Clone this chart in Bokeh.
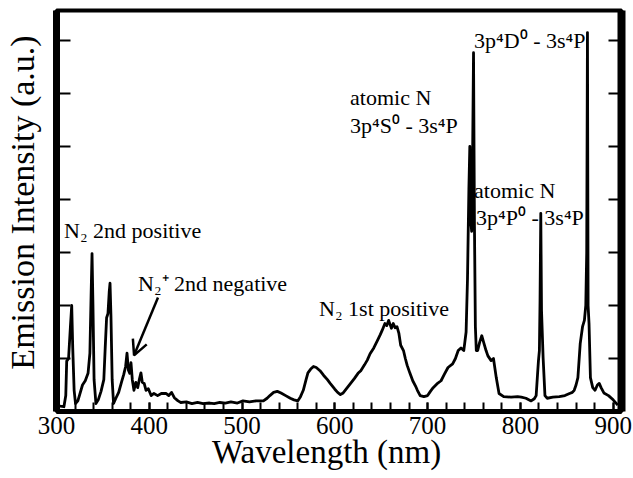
import math
from bokeh.plotting import figure
from bokeh.models import Range1d, FixedTicker, LinearAxis, Label, Arrow, OpenHead
from bokeh.embed import file_html
from bokeh.resources import INLINE

# Emission spectrum (wavelength in nm, intensity in a.u.)
wavelength = [300, 304, 308, 310, 311, 313, 315, 316.4, 317.5, 319, 320.5, 323, 325, 328, 331, 334,
              336, 337.3, 338.3, 339.3, 340.5, 342.5, 345, 348, 351, 352.5, 354, 355.5, 356.8, 357.7,
              358.7, 360, 361.5, 364, 367, 370, 372.5, 374.5, 376, 377.5, 379, 380.3, 381.7, 383.5,
              385.5, 387.5, 389.5, 391, 392.5, 394.5, 396.5, 399, 402, 405, 409, 413, 418, 421, 424,
              427, 431, 434, 440, 446, 452, 458, 465, 470, 476, 482, 488, 495, 501, 508, 515, 523,
              527, 530, 534, 538, 542, 547, 552, 556, 560, 563, 566, 569, 571, 574, 577, 580, 584,
              588, 592, 595, 600, 603, 606, 609, 613, 617, 621, 625, 628, 632, 635, 638, 642, 646,
              649, 651, 654, 656, 658, 660, 661, 663, 665, 667, 669, 671, 674, 676, 678, 681, 684,
              687, 689, 692, 696, 700, 703, 706, 710, 714.5, 718, 722, 727, 730, 733, 736, 739,
              741.5, 743, 744.5, 745.5, 746.5, 747.5, 748.5, 749.5, 750.5, 751.5, 752.5, 754, 756,
              758.4, 760.5, 763, 765, 768.5, 771, 774, 777, 782, 790, 797, 801, 806, 811.6, 815,
              817, 818.5, 819.5, 820.5, 821.2, 822, 822.8, 824.5, 826.5, 829, 835, 842, 848, 853,
              856, 858, 860, 862, 864.5, 867, 869, 870.5, 871.5, 872.3, 873, 874, 875.5, 878, 880.5,
              883, 885, 887, 890, 895, 900, 905]
intensity = [0.12, 0.10, 0.09, 0.30, 0.95, 1.00, 1.60, 2.00, 1.20, 0.40, 0.15, 0.20, 0.32, 0.50, 0.58, 0.72,
             1.10, 2.20, 2.98, 2.00, 0.60, 0.15, 0.22, 0.38, 0.60, 1.20, 1.77, 1.85, 2.25, 2.42,
             1.80, 0.60, 0.15, 0.25, 0.36, 0.55, 0.70, 0.85, 1.10, 0.78, 0.72, 0.92, 0.60, 0.40,
             0.55, 0.45, 0.62, 0.73, 0.55, 0.53, 0.40, 0.43, 0.30, 0.34, 0.30, 0.34, 0.34, 0.30, 0.36,
             0.26, 0.20, 0.17, 0.18, 0.15, 0.17, 0.15, 0.16, 0.15, 0.17, 0.16, 0.18, 0.16, 0.20, 0.18, 0.20, 0.20,
             0.25, 0.30, 0.36, 0.38, 0.35, 0.30, 0.25, 0.22, 0.20, 0.28, 0.40, 0.60, 0.73, 0.80, 0.85, 0.83, 0.77,
             0.68, 0.60, 0.53, 0.42, 0.36, 0.32, 0.35, 0.44, 0.53, 0.62, 0.72, 0.77, 0.88, 0.97, 1.09, 1.20, 1.34,
             1.45, 1.53, 1.66, 1.62, 1.72, 1.62, 1.57, 1.66, 1.58, 1.60, 1.48, 1.25, 1.15, 1.00, 0.87, 0.72, 0.58,
             0.48, 0.40, 0.30, 0.28, 0.30, 0.38, 0.45, 0.52, 0.58, 0.70, 0.83, 0.90, 1.00, 1.15, 1.20, 1.15,
             1.50, 2.50, 4.20, 5.00, 3.60, 3.40, 4.80, 6.77, 3.50, 1.60, 1.15, 1.15, 1.30,
             1.43, 1.30, 1.15, 1.05, 0.96, 1.00, 0.64, 0.34, 0.28, 0.27, 0.28, 0.27, 0.25, 0.20, 0.24,
             0.30, 0.70, 0.96, 1.15, 2.10, 3.74, 1.90, 1.02, 0.30, 0.25, 0.27, 0.28, 0.30, 0.34,
             0.36, 0.40, 0.50, 0.64, 1.28, 1.60, 1.72, 2.00, 3.00, 7.15, 2.00, 1.66, 0.64, 0.45, 0.40,
             0.50, 0.53, 0.45, 0.35, 0.30, 0.22, 0.12]

x_major = [300, 400, 500, 600, 700, 800, 900]
x_minor = [300, 320, 340, 360, 380, 400, 420, 440, 460, 480, 500, 520, 540, 560, 580, 600,
           620, 640, 660, 680, 700, 720, 740, 760, 780, 800, 820, 840, 860, 880, 900]
y_major = [0, 1, 2, 3, 4, 5, 6, 7]

SERIF = "Liberation Serif"
NB = "\u00a0"

p = figure(width=633, height=478, output_backend="svg", toolbar_location=None,
           x_range=Range1d(300, 909), y_range=Range1d(0, 7.566),
           min_border_left=56, min_border_right=12, min_border_top=10, min_border_bottom=67)
p.grid.visible = False
p.background_fill_color = "white"
p.border_fill_color = "white"
p.outline_line_color = "black"
p.outline_line_width = 4

p.line(wavelength, intensity, line_color="black", line_width=2.8, line_join="round")

# bottom axis
xa = p.xaxis[0]
xa.ticker = FixedTicker(ticks=x_major, minor_ticks=x_minor)
xa.major_tick_in = 9
xa.major_tick_out = 0
xa.minor_tick_in = 9
xa.minor_tick_out = 0
xa.major_tick_line_width = 2
xa.minor_tick_line_width = 2
xa.major_tick_line_color = "black"
xa.minor_tick_line_color = "black"
xa.axis_line_width = 5
xa.axis_line_color = "black"
xa.major_label_text_font = SERIF
xa.major_label_text_font_size = "25px"
xa.major_label_text_color = "black"
xa.major_label_standoff = 5
xa.axis_label = "Wavelength (nm)" + NB * 3
xa.axis_label_text_font = SERIF
xa.axis_label_text_font_size = "33px"
xa.axis_label_text_font_style = "normal"
xa.axis_label_text_color = "black"
xa.axis_label_standoff = -3

# left axis
ya = p.yaxis[0]
ya.ticker = FixedTicker(ticks=y_major, minor_ticks=[])
ya.major_tick_in = 14
ya.major_tick_out = 0
ya.major_tick_line_width = 2
ya.major_tick_line_color = "black"
ya.axis_line_width = 7
ya.axis_line_color = "black"
ya.major_label_overrides = {t: "" for t in y_major}
ya.major_label_standoff = 0
ya.axis_label = NB * 2 + "Emission Intensity (a.u.)"
ya.axis_label_text_font = SERIF
ya.axis_label_text_font_size = "34px"
ya.axis_label_text_font_style = "normal"
ya.axis_label_text_color = "black"
ya.axis_label_standoff = 16

# right axis
ra = LinearAxis(ticker=FixedTicker(ticks=y_major, minor_ticks=[]))
ra.major_tick_in = 13
ra.major_tick_out = 0
ra.major_tick_line_width = 2
ra.major_tick_line_color = "black"
ra.axis_line_width = 8
ra.axis_line_color = "black"
ra.major_label_overrides = {t: "" for t in y_major}
ra.major_label_standoff = 0
p.add_layout(ra, "right")

# annotations
ann = [
    (308.1, 3.415, "N\u2082 2nd positive"),
    (387.9, 2.415, "N\u2082\u207a 2nd negative"),
    (583.0, 1.943, "N\u2082 1st positive"),
    (616.4, 5.925, "atomic N"),
    (616.4, 5.396, "3p\u2074S\u2070 - 3s\u2074P"),
    (750.1, 7.00, "3p\u2074D\u2070 - 3s\u2074P"),
    (750.1, 4.17, "atomic N"),
    (752.3, 3.66, "3p\u2074P\u2070 - 3s\u2074P"),
]
for ax_, ay_, t in ann:
    p.add_layout(Label(x=ax_, y=ay_, text=t, text_font=SERIF, text_font_size="22px",
                       text_align="left", text_baseline="alphabetic", text_color="black"))

p.add_layout(Arrow(end=OpenHead(size=15, line_width=2.5, line_color="black"),
                   x_start=409.4, y_start=2.15, x_end=383.6, y_end=1.06,
                   line_width=2.5, line_color="black"))

open("out.html", "w").write(file_html(p, INLINE))
